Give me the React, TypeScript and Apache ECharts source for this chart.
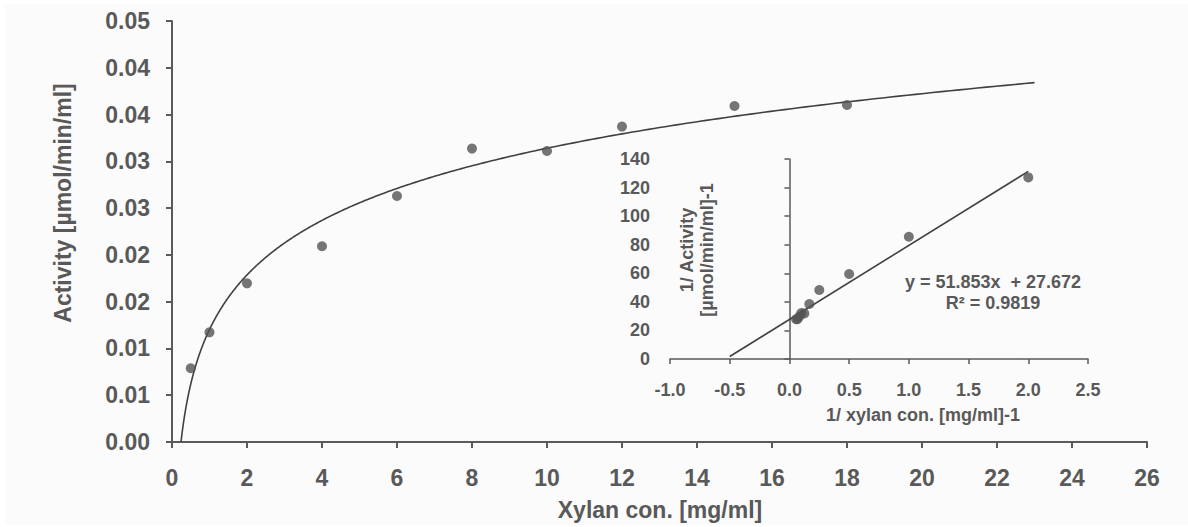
import React, { useEffect, useRef } from "react";
import * as echarts from "echarts";

// ---- Main chart data (Xylan concentration vs activity) ----
const xylanConc = [0.5, 1, 2, 4, 6, 8, 10, 12, 15, 18];
const activity = [0.00788, 0.01172, 0.01696, 0.02092, 0.02629, 0.03136, 0.0311, 0.03371, 0.03591, 0.03602];
const yTickLabels = ["0.00", "0.01", "0.01", "0.02", "0.02", "0.03", "0.03", "0.04", "0.04", "0.05"];
const mainTrendEnd = 23; // forecast end of log trendline

// ---- Inset (Lineweaver-Burk) data ----
const invXylan = [2.0, 1.0, 0.5, 0.25, 0.167, 0.125, 0.1, 0.083, 0.067, 0.056];
const invActivity = [127.1, 85.6, 59.5, 48.3, 38.5, 31.9, 32.2, 29.7, 27.8, 27.8];
const lbSlope = 51.853;
const lbIntercept = 27.672;
const lbRange = [-0.5, 2.0];
const equationText = "y = 51.853x  + 27.672";
const r2Text = "R² = 0.9819";

const FONT = "'Liberation Sans', Arial, sans-serif";
const TXT = "#595959";
const AX = "#5a5a5a";
const DOT = "#545454";
const LINE = "#404040";

function logFit(xs: number[], ys: number[]) {
  const lx = xs.map((v) => Math.log(v));
  const n = xs.length;
  const mx = lx.reduce((a, b) => a + b, 0) / n;
  const my = ys.reduce((a, b) => a + b, 0) / n;
  let sxx = 0, sxy = 0;
  for (let i = 0; i < n; i++) {
    sxx += (lx[i] - mx) ** 2;
    sxy += (lx[i] - mx) * (ys[i] - my);
  }
  const a = sxy / sxx;
  return { a, b: my - a * mx };
}

export default function App() {
  const ref = useRef<HTMLDivElement>(null);
  useEffect(() => {
    if (!ref.current) return;
    const chart = echarts.init(ref.current, undefined, { renderer: "svg" });

    const { a, b } = logFit(xylanConc, activity);
    const x0 = Math.exp(-b / a);
    const trend: number[][] = [];
    const N = 400;
    for (let i = 0; i <= N; i++) {
      const t = i / N;
      const x = x0 * Math.pow(mainTrendEnd / x0, t);
      trend.push([x, Math.max(0, a * Math.log(x) + b)]);
    }
    const lbLine = lbRange.map((x) => [x, lbSlope * x + lbIntercept]);

    const mainLabel = { color: TXT, fontFamily: FONT, fontWeight: "bold" as const, fontSize: 23 };
    const insetLabel = { color: TXT, fontFamily: FONT, fontWeight: "bold" as const, fontSize: 18 };

    chart.setOption({
      animation: false,
      backgroundColor: "#ffffff",
      grid: [
        { left: 172, top: 21, width: 975, height: 421 },
        { left: 670, top: 159, width: 418, height: 200 },
      ],
      xAxis: [
        {
          gridIndex: 0, type: "value", min: 0, max: 26, interval: 2,
          axisLine: { lineStyle: { color: AX, width: 2 } },
          axisTick: { length: 6, lineStyle: { color: AX, width: 2 } },
          axisLabel: { ...mainLabel, margin: 24 },
          splitLine: { show: false },
        },
        {
          gridIndex: 1, type: "value", min: -1, max: 2.5, interval: 0.5,
          axisLine: { lineStyle: { color: AX, width: 1.5 } },
          axisTick: { length: 5, lineStyle: { color: AX, width: 1.5 } },
          axisLabel: { ...insetLabel, margin: 22, formatter: (v: number) => v.toFixed(1) },
          splitLine: { show: false },
        },
      ],
      yAxis: [
        {
          gridIndex: 0, type: "value", min: 0, max: 0.045, interval: 0.005,
          axisLine: { show: true, lineStyle: { color: AX, width: 2 } },
          axisTick: { show: true, length: 6, lineStyle: { color: AX, width: 2 } },
          axisLabel: { ...mainLabel, margin: 22, formatter: (v: number) => yTickLabels[Math.round(v / 0.005)] },
          splitLine: { show: false },
        },
        {
          gridIndex: 1, type: "value", min: 0, max: 140, interval: 20,
          axisLine: { show: true, onZero: true, lineStyle: { color: AX, width: 1.5 } },
          axisTick: { show: true, length: 5, lineStyle: { color: AX, width: 1.5 } },
          axisLabel: { ...insetLabel, margin: 20 },
          splitLine: { show: false },
        },
      ],
      series: [
        {
          type: "line", xAxisIndex: 0, yAxisIndex: 0, data: trend,
          showSymbol: false, symbol: "none", lineStyle: { color: LINE, width: 1.6 }, z: 2, silent: true,
        },
        {
          type: "scatter", xAxisIndex: 0, yAxisIndex: 0,
          data: xylanConc.map((x, i) => [x, activity[i]]),
          symbolSize: 10, itemStyle: { color: DOT }, z: 3,
        },
        {
          type: "line", xAxisIndex: 1, yAxisIndex: 1, data: lbLine,
          showSymbol: false, symbol: "none", lineStyle: { color: LINE, width: 1.6 }, z: 2, silent: true,
        },
        {
          type: "scatter", xAxisIndex: 1, yAxisIndex: 1,
          data: invXylan.map((x, i) => [x, invActivity[i]]),
          symbolSize: 10, itemStyle: { color: DOT }, z: 3,
        },
      ],
      graphic: [
        {
          type: "rect", z: -10, silent: true,
          shape: { x: 5, y: 4, width: 1183, height: 521 },
          style: { fill: "#fbfbfb" },
        },
        {
          type: "text", x: 63, y: 203, rotation: Math.PI / 2,
          style: { text: "Activity [µmol/min/ml]", fill: TXT, font: `bold 23px ${FONT}`, align: "center", verticalAlign: "middle" },
        },
        {
          type: "text", x: 660, y: 510,
          style: { text: "Xylan con. [mg/ml]", fill: TXT, font: `bold 23px ${FONT}`, align: "center", verticalAlign: "middle" },
        },
        {
          type: "text", x: 697, y: 250, rotation: Math.PI / 2,
          style: { text: "1/ Activity\n[µmol/min/ml]-1", fill: TXT, font: `bold 18px ${FONT}`, align: "center", verticalAlign: "middle", lineHeight: 20 },
        },
        {
          type: "text", x: 923, y: 415,
          style: { text: "1/ xylan con. [mg/ml]-1", fill: TXT, font: `bold 18px ${FONT}`, align: "center", verticalAlign: "middle" },
        },
        {
          type: "text", x: 993, y: 282,
          style: { text: equationText, fill: TXT, font: `bold 18px ${FONT}`, align: "center", verticalAlign: "middle" },
        },
        {
          type: "text", x: 993, y: 303,
          style: { text: r2Text, fill: TXT, font: `bold 18px ${FONT}`, align: "center", verticalAlign: "middle" },
        },
      ],
    });
    return () => chart.dispose();
  }, []);
  return (
    <div
      ref={ref}
      style={{ position: "absolute", left: 0, top: 0, width: 1188, height: 527 }}
    />
  );
}
